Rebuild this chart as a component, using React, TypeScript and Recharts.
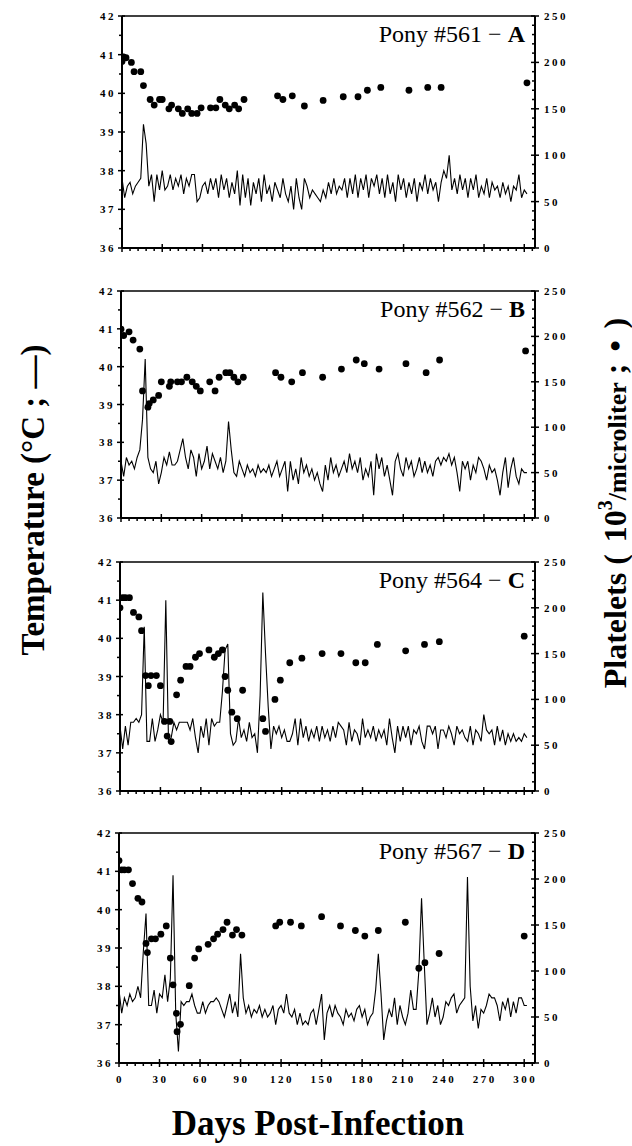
import React from "react";
import { ComposedChart, Line, Scatter, XAxis, YAxis, ReferenceLine } from "recharts";

const FONT = '"Liberation Serif", "Times New Roman", Times, serif';

// Rectal temperature, sampled every 2 days (day 0, 2, 4, ... 302)
const TEMP_STEP_DAYS = 2;

const tempA = [
  37.8, 37.3, 37.6, 37.7, 37.4, 37.6, 37.7, 37.8, 39.2, 38.7,
  37.6, 37.9, 37.2, 37.9, 37.5, 38.0, 37.5, 37.6, 37.9, 37.5,
  37.8, 37.6, 37.9, 37.4, 37.8, 37.6, 37.9, 37.9, 37.2, 37.3,
  37.6, 37.7, 37.4, 37.8, 37.5, 37.8, 37.3, 37.9, 37.5, 37.8,
  37.3, 37.7, 37.4, 38.0, 37.1, 37.9, 37.3, 37.8, 37.1, 37.7,
  37.4, 37.8, 37.2, 37.9, 37.4, 37.6, 37.2, 37.7, 37.5, 37.3,
  37.8, 37.4, 37.2, 37.6, 37.0, 37.8, 37.3, 37.0, 37.8, 37.6,
  37.3, 37.5, 37.4, 37.3, 37.2, 37.5, 37.3, 37.7, 37.4, 37.8,
  37.4, 37.6, 37.5, 37.8, 37.3, 37.8, 37.4, 37.9, 37.3, 37.8,
  37.5, 37.9, 37.3, 37.8, 37.6, 37.9, 37.4, 37.8, 37.3, 37.9,
  37.4, 37.7, 37.2, 37.9, 37.5, 37.8, 37.3, 37.7, 37.4, 37.8,
  37.2, 37.7, 37.5, 37.9, 37.4, 37.8, 37.5, 37.7, 37.2, 37.7,
  38.0, 37.8, 38.4, 37.5, 37.8, 37.4, 37.9, 37.5, 37.8, 37.3,
  37.8, 37.5, 37.9, 37.3, 37.6, 37.4, 37.8, 37.3, 37.7, 37.5,
  37.6, 37.3, 37.7, 37.4, 37.6, 37.2, 37.6, 37.5, 37.9, 37.3,
  37.5, 37.4,
];

const tempB = [
  37.5, 37.1, 37.6, 37.4, 37.5, 37.3, 37.6, 37.8, 38.6, 40.2,
  37.6, 37.3, 37.2, 37.5, 36.9, 37.2, 37.6, 37.4, 37.75, 37.4,
  37.4, 37.5, 37.8, 38.1, 37.6, 37.3, 37.8, 37.6, 37.1, 37.7,
  37.3, 37.5, 37.9, 37.3, 37.7, 37.5, 37.3, 37.6, 37.2, 37.5,
  38.55, 37.8, 37.2, 37.1, 37.5, 37.3, 37.1, 37.4, 37.2, 37.3,
  37.1, 37.4, 37.2, 37.3, 37.2, 37.4, 37.1, 37.3, 37.5, 37.1,
  37.3, 37.5, 36.7, 37.5, 37.0, 37.3, 36.9, 37.6, 37.2, 37.4,
  37.1, 37.3, 37.0, 37.2, 36.9, 36.7, 37.4, 37.0, 37.6, 37.2,
  37.4, 37.1, 37.3, 37.5, 37.2, 37.7, 37.3, 37.5, 37.2, 37.6,
  37.0, 37.3, 37.1, 37.5, 36.6, 37.7, 37.3, 37.6, 37.1, 37.4,
  37.0, 36.6, 37.5, 37.7, 37.3, 37.1, 37.6, 37.3, 37.5, 37.1,
  37.3, 37.6, 37.2, 37.5, 37.2, 37.4, 37.1, 37.5, 37.6, 37.4,
  37.6, 37.5, 37.7, 37.4, 37.6, 37.2, 36.7, 37.5, 37.3, 37.5,
  37.0, 37.4, 37.2, 37.6, 37.5, 37.3, 37.0, 37.4, 37.2, 37.3,
  37.0, 36.6, 37.2, 37.6, 36.8, 37.3, 37.6, 37.1, 36.9, 37.3,
  37.2, 37.2,
];

const tempC = [
  37.7, 37.1, 37.7, 37.2, 37.8, 37.8, 37.9, 37.8, 38.0, 40.3,
  37.3, 37.3, 37.9, 37.3, 37.6, 38.0, 37.8, 41.0, 37.3, 37.4,
  37.8, 37.6, 37.8, 37.8, 37.8, 37.8, 37.6, 37.9, 37.4, 37.0,
  37.7, 37.4, 37.9, 37.2, 37.9, 37.7, 37.8, 37.8, 38.6, 39.7,
  39.85, 37.5, 37.2, 37.3, 37.9, 37.4, 37.6, 37.3, 37.8, 37.4,
  37.5, 37.0, 38.5, 41.2, 39.6, 38.2, 37.1, 37.7, 37.5, 37.7,
  37.4, 37.6, 37.3, 37.3, 37.5, 37.9, 37.2, 37.9, 37.4, 37.7,
  37.3, 37.6, 37.4, 37.7, 37.3, 37.7, 37.4, 37.6, 37.3, 37.7,
  37.4, 37.8, 37.7, 37.6, 37.2, 37.8, 37.3, 37.6, 37.5, 37.2,
  37.9, 37.4, 37.6, 37.4, 37.7, 37.3, 37.6, 37.4, 37.6, 37.2,
  37.9, 37.4, 37.0, 37.7, 37.3, 37.7, 37.4, 37.7, 37.2, 37.6,
  37.5, 37.7, 37.3, 37.1, 37.7, 37.7, 37.5, 37.7, 37.1, 37.6,
  37.6, 37.4, 37.7, 37.5, 37.2, 37.7, 37.5, 37.6, 37.4, 37.3,
  37.7, 37.2, 37.6, 37.5, 37.3, 38.0, 37.6, 37.5, 37.6, 37.2,
  37.7, 37.3, 37.6, 37.2, 37.5, 37.3, 37.5, 37.3, 37.4, 37.3,
  37.5, 37.4,
];

const tempD = [
  37.9, 37.3, 37.7, 37.5, 37.8, 37.6, 37.7, 38.0, 37.7, 38.9,
  39.9, 37.5, 37.5, 37.9, 37.3, 37.8, 37.7, 38.3, 37.6, 38.2,
  40.9, 37.3, 36.3, 37.6, 37.5, 37.6, 37.6, 37.8, 37.5, 37.3,
  37.3, 37.6, 37.3, 37.5, 37.6, 37.6, 37.7, 37.6, 37.4, 37.2,
  37.5, 37.8, 37.3, 37.6, 37.2, 38.85, 37.7, 37.3, 37.5, 37.2,
  37.4, 37.3, 37.5, 37.2, 37.4, 37.2, 37.3, 37.5, 37.0, 37.4,
  37.5, 37.3, 37.8, 37.3, 37.2, 37.4, 37.0, 37.3, 37.0, 37.1,
  37.0, 37.3, 37.4, 37.0, 37.4, 37.8, 36.6, 37.3, 37.5, 37.2,
  37.5, 37.3, 37.2, 37.0, 37.4, 37.2, 37.3, 37.1, 37.4, 37.5,
  37.2, 37.4, 37.0, 37.2, 37.3, 37.9, 38.85, 37.8, 36.6, 37.1,
  37.4, 37.2, 37.7, 37.0, 37.5, 37.2, 37.0, 37.3, 37.9, 37.4,
  37.4, 38.4, 40.3, 38.6, 37.0, 37.3, 37.7, 37.2, 37.5, 37.0,
  37.2, 37.6, 37.5, 37.7, 37.8, 37.3, 37.5, 37.6, 37.7, 40.85,
  38.0, 37.1, 37.5, 36.9, 37.4, 37.3, 37.5, 37.8, 37.7, 37.7,
  37.5, 37.1, 37.6, 37.4, 37.7, 37.2, 37.6, 37.3, 37.7, 37.7,
  37.5, 37.5,
];

// Platelet counts (10^3 / microliter)
const pltDaysA = [0, 1, 3, 7, 9, 14, 16, 21, 24, 28, 30, 35, 37, 42, 45, 49, 52, 56, 59, 66, 70, 73, 77, 80, 84, 87, 91, 116, 120, 127, 136, 150, 165, 176, 183, 193, 214, 228, 238, 302];
const pltA = [201, 206, 205, 200, 190, 190, 175, 160, 154, 160, 160, 150, 154, 150, 145, 150, 145, 145, 151, 151, 151, 160, 154, 150, 154, 150, 160, 164, 160, 164, 153, 159, 163, 163, 170, 173, 170, 173, 173, 178];

const pltDaysB = [0, 2, 6, 9, 14, 16, 20, 21, 24, 28, 30, 36, 37, 42, 45, 49, 53, 56, 59, 66, 70, 73, 78, 81, 84, 87, 91, 115, 119, 127, 135, 150, 164, 175, 181, 192, 212, 227, 237, 301];
const pltB = [208, 201, 205, 196, 186, 140, 122, 126, 130, 135, 150, 145, 150, 150, 150, 155, 150, 145, 140, 150, 140, 155, 160, 160, 155, 150, 155, 160, 155, 150, 160, 155, 164, 174, 170, 164, 170, 160, 174, 184];

const pltDaysC = [0, 2, 4, 7, 10, 14, 16, 19, 21, 23, 27, 30, 33, 35, 37, 38, 42, 45, 49, 52, 56, 59, 66, 70, 73, 76, 78, 80, 83, 87, 91, 106, 108, 115, 119, 126, 135, 150, 164, 175, 182, 191, 212, 226, 237, 300];
const pltC = [200, 211, 211, 211, 195, 190, 175, 126, 115, 126, 126, 115, 76, 60, 76, 54, 105, 121, 136, 136, 146, 150, 154, 146, 150, 154, 125, 110, 86, 79, 110, 79, 65, 100, 121, 140, 145, 150, 150, 140, 140, 160, 153, 160, 163, 169];

const pltDaysD = [0, 2, 4, 7, 10, 14, 17, 20, 21, 24, 27, 31, 35, 38, 40, 42.5, 43, 45.5, 52, 56, 59, 66, 70, 73, 77, 80, 84, 87, 91, 116, 119, 127, 135, 150, 164, 175, 182, 192, 212, 222, 226.5, 237, 300];
const pltD = [220, 210, 210, 210, 195, 179, 175, 130, 120, 135, 135, 140, 149, 114, 85, 54, 34, 42, 84, 114, 124, 129, 135, 140, 145, 153, 139, 145, 139, 149, 153, 153, 149, 159, 149, 144, 138, 144, 153, 103, 109, 119, 138];

// Axis ticks
const dayTicks = [0, 6, 12, 18, 24, 30, 36, 42, 48, 54, 60, 66, 72, 78, 84, 90, 96, 102, 108, 114, 120, 126, 132, 138, 144, 150, 156, 162, 168, 174, 180, 186, 192, 198, 204, 210, 216, 222, 228, 234, 240, 246, 252, 258, 264, 270, 276, 282, 288, 294, 300, 306];
const tempTicks = [36, 36.5, 37, 37.5, 38, 38.5, 39, 39.5, 40, 40.5, 41, 41.5, 42];
const pltTicks = [0, 10, 20, 30, 40, 50, 60, 70, 80, 90, 100, 110, 120, 130, 140, 150, 160, 170, 180, 190, 200, 210, 220, 230, 240, 250];

const panelsInfo = [
  { pony: "561", letter: "A", temps: tempA, pDays: pltDaysA, pVals: pltA },
  { pony: "562", letter: "B", temps: tempB, pDays: pltDaysB, pVals: pltB },
  { pony: "564", letter: "C", temps: tempC, pDays: pltDaysC, pVals: pltC },
  { pony: "567", letter: "D", temps: tempD, pDays: pltDaysD, pVals: pltD },
];

// layout (pixels)
const layout = [
  { top: 16, h: 232, left: 122 },
  { top: 291, h: 227, left: 121 },
  { top: 562, h: 229, left: 120 },
  { top: 833, h: 230, left: 119 },
];
const RIGHT_W = 97;
const PAD_TOP = 10;
const X_AXIS_H = 30;

const LeftTick = (props: any) => {
  const { x, y, payload } = props;
  const v = payload.value as number;
  const major = Math.abs(v - Math.round(v)) < 1e-6;
  return (
    <g>
      <line x1={x - (major ? 4 : 3)} x2={x + (major ? 3 : 0)} y1={y} y2={y} stroke="#000" strokeWidth={1.5} />
      {major && (
        <text x={x - 6} y={y + 4} textAnchor="end" fontFamily={FONT} fontWeight="bold" fontSize={11} letterSpacing={2.5} fill="#000">
          {v}
        </text>
      )}
    </g>
  );
};

const RightTick = (props: any) => {
  const { x, y, payload } = props;
  const v = payload.value as number;
  const major = v % 50 === 0;
  return (
    <g>
      <line x1={x - (major ? 4 : 3)} x2={x + (major ? 4 : 0)} y1={y} y2={y} stroke="#000" strokeWidth={1.5} />
      {major && (
        <text x={x + 9} y={y + 4} textAnchor="start" fontFamily={FONT} fontWeight="bold" fontSize={11} letterSpacing={2.5} fill="#000">
          {v}
        </text>
      )}
    </g>
  );
};

const makeXTick = (showLabel: boolean) => (props: any) => {
  const { x, y, payload } = props;
  const v = payload.value as number;
  const major = v % 30 === 0;
  return (
    <g>
      <line x1={x} x2={x} y1={major ? y - 4 : y} y2={y + (major ? 4 : 3)} stroke="#000" strokeWidth={1.5} />
      {showLabel && major && (
        <text x={x + 1} y={y + 20} textAnchor="middle" fontFamily={FONT} fontWeight="bold" fontSize={11} letterSpacing={2.5} fill="#000">
          {v}
        </text>
      )}
    </g>
  );
};

const Dot = (p: any) => <circle cx={p.cx} cy={p.cy} r={3.4} fill="#000" />;

function Panel({ idx }: { idx: number }) {
  const info = panelsInfo[idx];
  const lay = layout[idx];
  const lineData = info.temps.map((t, i) => ({ day: i * TEMP_STEP_DAYS, temp: t }));
  const pltData = info.pDays.map((d, i) => ({ day: d, plt: info.pVals[i] }));
  const showLabels = idx === panelsInfo.length - 1;
  return (
    <div style={{ position: "absolute", left: 0, top: lay.top - PAD_TOP }}>
      <ComposedChart
        width={632}
        height={PAD_TOP + lay.h + X_AXIS_H}
        margin={{ top: PAD_TOP, right: 0, bottom: 0, left: 0 }}
      >
        <XAxis
          xAxisId="x"
          dataKey="day"
          type="number"
          domain={[0, 308]}
          ticks={dayTicks}
          interval={0}
          height={X_AXIS_H}
          tickSize={0}
          tickMargin={0}
          tickLine={false}
          axisLine={{ stroke: "#000", strokeWidth: 2 }}
          tick={makeXTick(showLabels)}
          allowDataOverflow
        />
        <YAxis
          yAxisId="t"
          orientation="left"
          type="number"
          domain={[36, 42]}
          ticks={tempTicks}
          interval={0}
          width={lay.left}
          tickSize={0}
          tickMargin={0}
          tickLine={false}
          axisLine={{ stroke: "#000", strokeWidth: 2 }}
          tick={<LeftTick />}
          allowDataOverflow
        />
        <YAxis
          yAxisId="p"
          dataKey="plt"
          orientation="right"
          type="number"
          domain={[0, 250]}
          ticks={pltTicks}
          interval={0}
          width={RIGHT_W}
          tickSize={0}
          tickMargin={0}
          tickLine={false}
          axisLine={{ stroke: "#000", strokeWidth: 2 }}
          tick={<RightTick />}
          allowDataOverflow
        />
        <ReferenceLine xAxisId="x" yAxisId="t" y={42} stroke="#000" strokeWidth={1.5} />
        <Line
          xAxisId="x"
          yAxisId="t"
          data={lineData}
          dataKey="temp"
          type="linear"
          stroke="#000"
          strokeWidth={1.1}
          dot={false}
          activeDot={false}
          isAnimationActive={false}
        />
        <Scatter
          xAxisId="x"
          yAxisId="p"
          data={pltData}
          fill="#000"
          shape={<Dot />}
          isAnimationActive={false}
        />
      </ComposedChart>
    </div>
  );
}

export default function App() {
  return (
    <div style={{ position: "absolute", left: 0, top: 0, width: 632, height: 1146, background: "#fff", fontFamily: FONT }}>
      {panelsInfo.map((_, i) => (
        <Panel key={i} idx={i} />
      ))}
      <svg width={632} height={1146} style={{ position: "absolute", left: 0, top: 0, pointerEvents: "none" }}>
        {panelsInfo.map((p, i) => (
          <text key={p.letter} x={525} y={layout[i].top + 26} textAnchor="end" fontFamily={FONT} fontSize={24} fill="#000">
            {`Pony #${p.pony} − `}
            <tspan fontWeight="bold">{p.letter}</tspan>
          </text>
        ))}
        <text transform="translate(44,500) rotate(-90)" textAnchor="middle" fontFamily={FONT} fontWeight="bold" fontSize={33} fill="#000">
          Temperature (°C ; —)
        </text>
        <text transform="translate(626,503) rotate(-90)" textAnchor="middle" fontFamily={FONT} fontWeight="bold" fontSize={32} fill="#000">
          <tspan>Platelets (</tspan>
          <tspan dx={12}>10</tspan>
          <tspan fontSize={20} dy={-14}>3</tspan>
          <tspan fontSize={26} dy={14}>/microliter</tspan>
          <tspan dx={8}>;</tspan>
          <tspan dx={12}>•</tspan>
          <tspan dx={12}>)</tspan>
        </text>
        <text x={318} y={1135} textAnchor="middle" fontFamily={FONT} fontWeight="bold" fontSize={35} fill="#000">
          Days Post-Infection
        </text>
      </svg>
    </div>
  );
}
